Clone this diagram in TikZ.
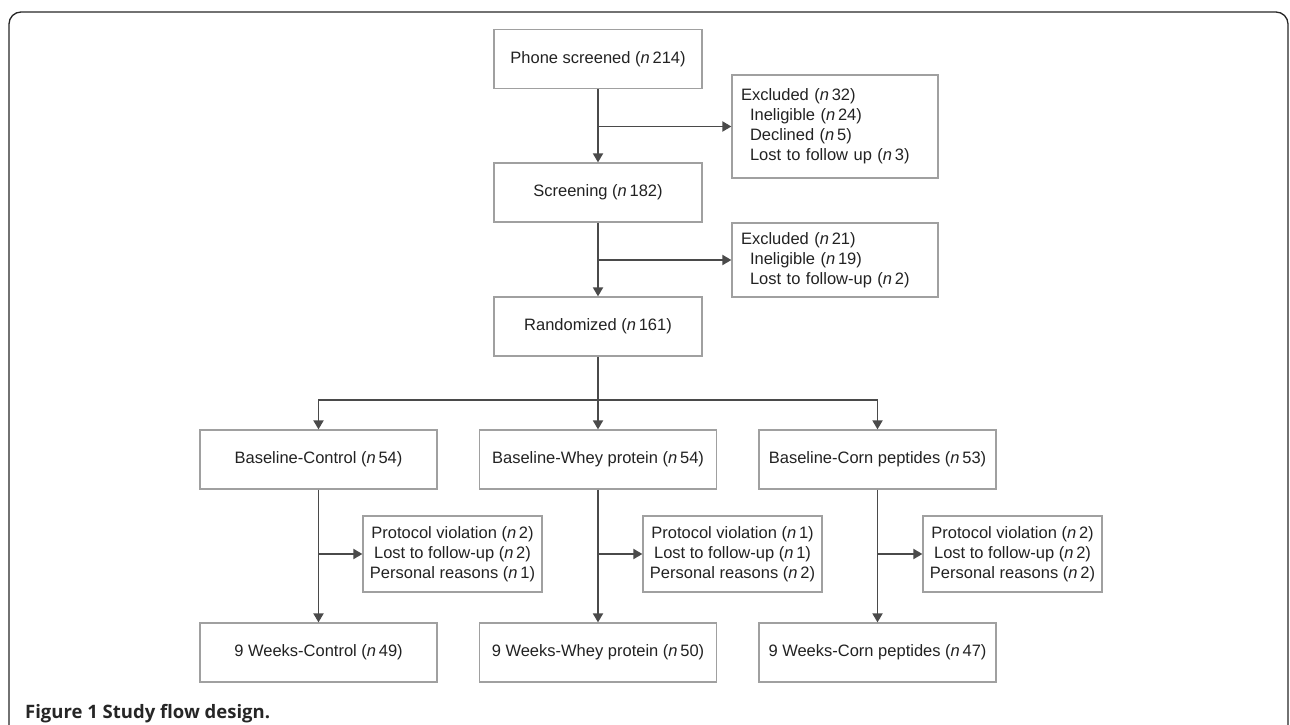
\documentclass[tikz,border=0pt]{standalone}
\usepackage{fontspec}
\setmainfont{Liberation Sans}
\newfontfamily\capfont{Open Sans}
\usetikzlibrary{arrows.meta}
\definecolor{boxgray}{HTML}{A0A0A0}
\definecolor{arrgray}{HTML}{4A4A4A}
\definecolor{txt}{HTML}{222222}
\newcommand{\nn}[1]{(\textit{n}\,#1)}
\tikzset{
  box/.style={draw=boxgray, line width=1.2pt, inner sep=0pt, text=txt,
    font=\fontsize{16.5}{20}\selectfont, align=center},
  topbox/.style={box, minimum width=208pt, minimum height=59pt},
  grpbox/.style={box, minimum width=237pt, minimum height=59pt},
  exbox/.style={box, text width=188pt, inner xsep=9pt, align=left},
  probox/.style={box, minimum width=179pt, minimum height=76pt},
  conn/.style={draw=arrgray, line width=1.8pt},
  arr/.style={conn, -{Triangle[length=9pt,width=10pt]}}
}
\begin{document}
\begin{tikzpicture}[x=1pt,y=-1pt]
\path[use as bounding box] (0,0) rectangle (1290,725);
% outer frame
\draw[line width=1.3pt, draw=black!85] (9,726) -- (9,24) arc[start angle=180,end angle=270,radius=12] -- (1276,12) arc[start angle=270,end angle=360,radius=12] -- (1288,726);

\node[topbox] (phone) at (598,59) {Phone screened \nn{214}};
\node[topbox] (screen) at (598,192.5) {Screening \nn{182}};
\node[topbox] (rand) at (598,326.5) {Randomized \nn{161}};
\node[exbox, minimum height=103pt] (ex1) at (835,126.5) {Excluded \nn{32}\\\hspace*{9pt}Ineligible \nn{24}\\\hspace*{9pt}Declined \nn{5}\\\hspace*{9pt}Lost to follow up \nn{3}};
\node[exbox, minimum height=74pt] (ex2) at (835,260) {Excluded \nn{21}\\\hspace*{9pt}Ineligible \nn{19}\\\hspace*{9pt}Lost to follow-up \nn{2}};

\node[grpbox] (b1) at (318.5,459.5) {Baseline-Control \nn{54}};
\node[grpbox] (b2) at (598,459.5) {Baseline-Whey protein \nn{54}};
\node[grpbox] (b3) at (877.5,459.5) {Baseline-Corn peptides \nn{53}};

\node[probox] (p1) at (452.5,554) {Protocol violation \nn{2}\\Lost to follow-up \nn{2}\\Personal reasons \nn{1}};
\node[probox] (p2) at (732.5,554) {Protocol violation \nn{1}\\Lost to follow-up \nn{1}\\Personal reasons \nn{2}};
\node[probox] (p3) at (1012.5,554) {Protocol violation \nn{2}\\Lost to follow-up \nn{2}\\Personal reasons \nn{2}};

\node[grpbox] (w1) at (318.5,652.5) {9 Weeks-Control \nn{49}};
\node[grpbox] (w2) at (598,652.5) {9 Weeks-Whey protein \nn{50}};
\node[grpbox] (w3) at (877.5,652.5) {9 Weeks-Corn peptides \nn{47}};

% top chain
\draw[arr] (phone) -- (screen);
\draw[arr] (screen) -- (rand);
\draw[arr] (phone.south |- ex1.west) -- (ex1.west);
\draw[arr] (screen.south |- ex2.west) -- (ex2.west);

% branching
\coordinate (br) at (598,400);
\draw[conn] (rand.south) -- (br);
\draw[arr] (br) -- (b2.north);
\draw[arr] (br) -| (b1.north);
\draw[arr] (br) -| (b3.north);

% group chains
\draw[arr] (b1) -- (w1);
\draw[arr] (b2) -- (w2);
\draw[arr] (b3) -- (w3);
\draw[arr] (b1.south |- p1.west) -- (p1.west);
\draw[arr] (b2.south |- p2.west) -- (p2.west);
\draw[arr] (b3.south |- p3.west) -- (p3.west);

\node[anchor=base west, inner sep=0pt, font=\capfont\bfseries\fontsize{18.5}{20}\selectfont, text=black!85] (cap) at (25,718) {Figure 1 Study flow design.};
\end{tikzpicture}
\end{document}
